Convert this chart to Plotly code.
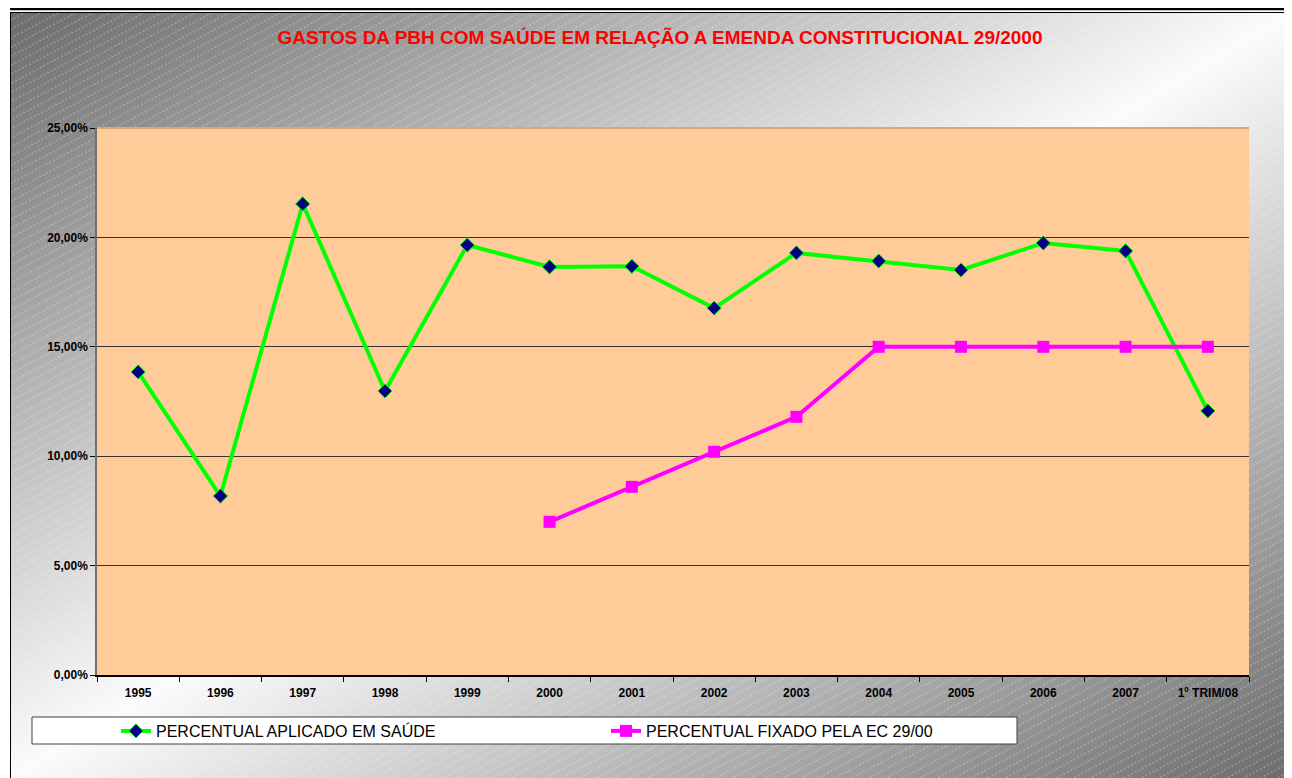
import base64
import plotly.graph_objects as go

categories = ["1995", "1996", "1997", "1998", "1999", "2000", "2001", "2002",
              "2003", "2004", "2005", "2006", "2007", "1º TRIM/08"]
aplicado = [13.85, 8.18, 21.53, 12.98, 19.65, 18.65, 18.68, 16.77,
            19.29, 18.92, 18.51, 19.74, 19.38, 12.07]
fixado_cats = ["2000", "2001", "2002", "2003", "2004", "2005", "2006", "2007", "1º TRIM/08"]
fixado = [7.0, 8.6, 10.2, 11.8, 15.0, 15.0, 15.0, 15.0, 15.0]

OFF = 8  # page body margin
W, H = 1292 - OFF, 778 - OFF
L, T = 97 - OFF, 128 - OFF
R, B = 1292 - 1249, 778 - 675
PW, PH = W - L - R, H - T - B

svg = f'''<svg xmlns="http://www.w3.org/2000/svg" width="{W}" height="{H}" viewBox="0 0 {W} {H}">
<defs>
<linearGradient id="g" x1="0" y1="0" x2="1" y2="1">
<stop offset="0" stop-color="#6c6c6c"/>
<stop offset="0.5" stop-color="#fbfbfb"/>
<stop offset="1" stop-color="#6c6c6c"/>
</linearGradient>
<pattern id="p" width="8" height="8" patternUnits="userSpaceOnUse" patternTransform="rotate(-28)">
<line x1="0" y1="4" x2="8" y2="4" stroke="#ffffff" stroke-opacity="0.4" stroke-width="1" stroke-dasharray="2 2"/>
</pattern>
</defs>
<rect width="{W}" height="{H}" fill="#ffffff"/>
<rect x="2" y="5" width="{W-2}" height="{H-5}" fill="url(#g)"/>
<rect x="2" y="5" width="{W-2}" height="{H-5}" fill="url(#p)"/>
<line x1="2" y1="1" x2="{W}" y2="1" stroke="#000" stroke-width="2.5"/>
<line x1="2" y1="4.5" x2="{W}" y2="4.5" stroke="#000" stroke-width="1"/>
<line x1="2.5" y1="4" x2="2.5" y2="{H}" stroke="#000" stroke-width="1"/>
</svg>'''
src = "data:image/svg+xml;base64," + base64.b64encode(svg.encode()).decode()


def px_x(x):  # page pixel -> paper
    return (x - OFF - L) / PW


def px_y(y):
    return 1 - (y - OFF - T) / PH


fig = go.Figure()
fig.add_trace(go.Scatter(
    x=categories, y=[v / 100 for v in aplicado], mode="lines+markers",
    name="PERCENTUAL APLICADO EM SAÚDE",
    line=dict(color="#00FF00", width=4),
    marker=dict(symbol="diamond", size=11, color="#000080",
                line=dict(color="#00FF00", width=1)),
))
fig.add_trace(go.Scatter(
    x=fixado_cats, y=[v / 100 for v in fixado], mode="lines+markers",
    name="PERCENTUAL FIXADO PELA EC 29/00",
    line=dict(color="#FF00FF", width=4),
    marker=dict(symbol="square", size=12, color="#FF00FF"),
))

fig.update_layout(
    width=W, height=H,
    margin=dict(l=L, r=R, t=T, b=B),
    paper_bgcolor="#ffffff",
    plot_bgcolor="#FFCC99",
    separators=",.",
    font=dict(family="Liberation Sans, Arial, sans-serif", color="#000"),
    title=dict(
        text="GASTOS DA PBH COM SAÚDE EM RELAÇÃO A EMENDA CONSTITUCIONAL 29/2000",
        font=dict(size=19, color="#FF0000", weight="bold"),
        x=(660 - OFF) / W, xanchor="center", xref="container",
        y=1 - (37 - OFF) / H, yanchor="middle", yref="container",
    ),
    xaxis=dict(
        type="category", categoryorder="array", categoryarray=categories,
        range=[-0.5, len(categories) - 0.5],
        showgrid=False, showline=True, linecolor="#000", linewidth=1.5,
        ticks="outside", tickson="boundaries", ticklen=5, tickcolor="#000",
        tickfont=dict(size=12, weight="bold"), ticklabelstandoff=6,
        zeroline=False,
    ),
    yaxis=dict(
        range=[0, 0.25], dtick=0.05, tickformat=".2%",
        showgrid=True, gridcolor="#333333", gridwidth=1,
        showline=True, linecolor="#707070", linewidth=1.5,
        ticks="outside", ticklen=5, tickcolor="#000",
        tickfont=dict(size=12, weight="bold"),
        zeroline=False,
    ),
    legend=dict(
        orientation="h", x=px_x(116), xanchor="left",
        y=px_y(731), yanchor="middle",
        bgcolor="rgba(0,0,0,0)", borderwidth=0,
        entrywidth=445, entrywidthmode="pixels",
        font=dict(size=16, color="#000"),
    ),
    images=[dict(
        source=src, xref="paper", yref="paper",
        x=-L / PW, y=1 + T / PH, sizex=W / PW, sizey=H / PH,
        xanchor="left", yanchor="top", sizing="stretch", layer="below",
    )],
    shapes=[
        dict(type="rect", xref="paper", yref="paper",
             x0=0, x1=1, y0=0, y1=1,
             fillcolor="#FFCC99", line=dict(width=0), layer="below"),
        dict(type="rect", xref="paper", yref="paper",
             x0=px_x(32), x1=px_x(1017), y0=px_y(717), y1=px_y(744),
             fillcolor="#ffffff", line=dict(color="#404040", width=1), layer="below"),
        dict(type="line", xref="paper", yref="paper",
             x0=0, x1=1, y0=1, y1=1,
             line=dict(color="#D9A77A", width=2), layer="below"),
    ],
)

fig.write_html("out.html")
